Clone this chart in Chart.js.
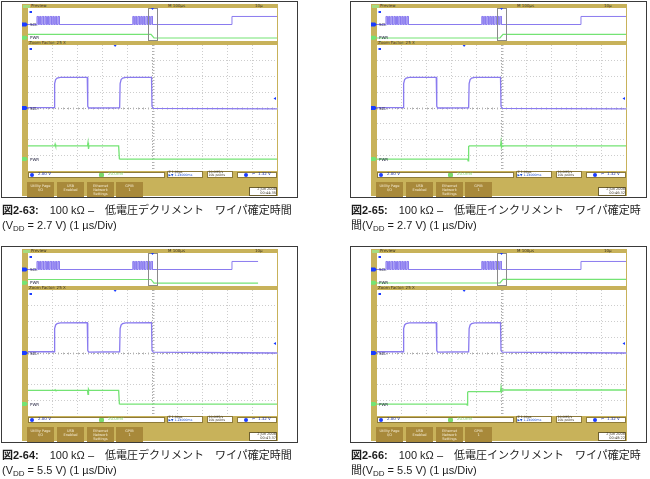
<!DOCTYPE html>
<html lang="ja">
<head>
<meta charset="UTF-8">
<title>ワイパ確定時間</title>
<script src="https://cdn.jsdelivr.net/npm/chart.js@4.4.0/dist/chart.umd.min.js"></script>
<style>
  body { margin: 0; background: #fff; }
  #page { position: relative; width: 650px; height: 479px; overflow: hidden; font-family: "Liberation Sans", Arial, sans-serif; }
  #page div, #page canvas { position: absolute; box-sizing: border-box; }
  .frame { border: 1px solid #3a3a3a; }
  .scope { background: #c8b25a; }
  .tiny { font-family: "DejaVu Sans", sans-serif; font-size: 4px; line-height: 4.5px; color: #3a3220; white-space: nowrap; }
  .sbox { background: #fff; border: 0.5px solid #8d7a3a; }
  .btn { background: #a8893a; color: #f3ead0; font-family: "DejaVu Sans", sans-serif; font-size: 3.5px; line-height: 4px; text-align: center; padding-top: 2px; }
  .cap { font-family: "Liberation Sans", "Noto Sans CJK JP", sans-serif; font-size: 11px; line-height: 15px; color: #1c1c1c; white-space: nowrap; }
  .cap sub { font-size: 8px; vertical-align: -2px; line-height: 0; }
</style>
</head>
<body>
<div id="page"></div>
<script>
// time: zoom window 1 µs/div, overview 25 µs/div (zoom factor 25), 0 = trigger
// level: screen divisions, 0 = centre graticule line
const zoomTimeRange = [-5, 5];
const overTimeRange = [-125, 125];
const levelRange = [-4, 4];

// SCL in the zoom window
const sclZoomTime = [-5, -3.95, -3.93, -3.89, -3.83, -3.7, -2.62, -2.6, -2.56, -1.32, -1.3, -1.26, -1.2, -1.07, -0.04, -0.02, 0.03, 5];
const sclZoom27 = [0.02, 0.02, 1.55, 1.8, 1.9, 1.94, 1.95, 0.1, 0, 0.01, 1.55, 1.8, 1.9, 1.94, 1.95, 0.1, -0.02, -0.06];
const sclZoom55 = [0.08, 0.08, 1.55, 1.78, 1.87, 1.91, 1.92, 0.16, 0.06, 0.08, 1.55, 1.78, 1.87, 1.91, 1.92, 0.15, 0.05, 0.0];

// PWR in the zoom window
const pwrZoomTime63 = [-5, -3.93, -3.91, -3.89, -2.61, -2.59, -2.57, -2.55, -1.36, -1.33, -1.3, 5];
const pwrZoom63 = [-2.41, -2.41, -2.3, -2.41, -2.41, -2.2, -2.6, -2.41, -2.41, -3.22, -3.24, -3.24];
const pwrZoomTime64 = [-5, -3.93, -3.91, -3.89, -2.61, -2.59, -2.57, -2.55, -1.36, -1.33, -1.3, 5];
const pwrZoom64 = [-2.37, -2.37, -2.33, -2.37, -2.37, -2.62, -2.3, -2.37, -2.37, -3.22, -3.24, -3.24];
const pwrZoomTime65 = [-5, -1.36, -1.34, -1.32, -1.29, -0.04, -0.02, 0.0, 0.03, 0.06, 5];
const pwrZoom65 = [-3.24, -3.24, -3.36, -2.45, -2.41, -2.41, -2.16, -2.5, -2.4, -2.41, -2.41];
const pwrZoomTime66 = [-5, -1.4, -1.38, -1.36, -1.33, -0.04, -0.02, 0.0, 0.03, 0.06, 5];
const pwrZoom66 = [-3.24, -3.24, -3.3, -2.5, -2.45, -2.45, -2.2, -2.45, -2.36, -2.35, -2.35];

// SCL in the overview: two clock bursts, then the bus goes high
const burst1Rise = [-116.0, -113.4, -110.7, -108.1, -105.4, -102.8, -100.2, -97.5, -94.9];
const burst1Fall = [-114.7, -112.1, -109.4, -106.8, -104.1, -101.5, -98.9, -96.2, -93.6];
const burst2Rise = [-19.8, -17.2, -14.5, -11.9, -9.2, -6.6, -3.9, -1.3];
const burst2Fall = [-18.5, -15.8, -13.2, -10.5, -7.9, -5.2, -2.6, 0.0];
const sclOverHigh = 1.95;
const sclReleaseTime = 79.8;

// PWR in the overview
const pwrOverTime63 = [-125, -1.5, 1.5, 125];
const pwrOver63 = [-2.38, -2.38, -3.27, -3.27];
const pwrOverTime64 = [-125, -1.5, 1.5, 106];
const pwrOver64 = [-2.42, -2.42, -3.3, -3.3];
const pwrOverTime65 = [-125, -1.5, 1.5, 125];
const pwrOver65 = [-3.27, -3.27, -2.4, -2.4];
const pwrOverTime66 = [-125, -1.5, 1.5, 125];
const pwrOver66 = [-3.27, -3.27, -2.4, -2.4];

const sclGround = 0;
const pwrGround = -3.24;
const trigLevel = 0.6;
const zoomWindow = [-5, 5];

const figures = [
  { ox: 0, oy: 0, fig: '2-63', mode: 'デクリメント', vdd: '2.7', scl: sclZoom27, pwrT: pwrZoomTime63, pwr: pwrZoom63, ovT: pwrOverTime63, ov: pwrOver63, stamp: '00:44:35' },
  { ox: 0, oy: 245, fig: '2-64', mode: 'デクリメント', vdd: '5.5', scl: sclZoom55, pwrT: pwrZoomTime64, pwr: pwrZoom64, ovT: pwrOverTime64, ov: pwrOver64, stamp: '00:47:37' },
  { ox: 349, oy: 0, fig: '2-65', mode: 'インクリメント', vdd: '2.7', scl: sclZoom27, pwrT: pwrZoomTime65, pwr: pwrZoom65, ovT: pwrOverTime65, ov: pwrOver65, stamp: '00:46:32' },
  { ox: 349, oy: 245, fig: '2-66', mode: 'インクリメント', vdd: '5.5', scl: sclZoom55, pwrT: pwrZoomTime66, pwr: pwrZoom66, ovT: pwrOverTime66, ov: pwrOver66, stamp: '00:48:22' }
];

const sclColor = '#8a7bef';
const pwrColor = '#74e374';
const markBlue = '#1a3cff';

const page = document.getElementById('page');

function div(cls, x, y, w, h, html, css) {
  const d = document.createElement('div');
  d.className = cls;
  d.style.left = x + 'px';
  d.style.top = y + 'px';
  if (w != null) d.style.width = w + 'px';
  if (h != null) d.style.height = h + 'px';
  if (css) Object.assign(d.style, css);
  if (html) d.innerHTML = html;
  page.appendChild(d);
  return d;
}

function canvasAt(x, y, w, h) {
  const c = document.createElement('canvas');
  c.width = w;
  c.height = h;
  c.style.left = x + 'px';
  c.style.top = y + 'px';
  page.appendChild(c);
  return c;
}

function toPoints(times, levels) {
  return times.map((t, i) => ({ x: t, y: levels[i] }));
}

function clockTrace(end) {
  const pts = [{ x: overTimeRange[0], y: sclGround }];
  [[burst1Rise, burst1Fall], [burst2Rise, burst2Fall]].forEach(([r, f]) => {
    r.forEach((t, i) => {
      pts.push({ x: t, y: sclGround }, { x: t, y: sclOverHigh }, { x: f[i], y: sclOverHigh }, { x: f[i], y: sclGround });
    });
  });
  pts.push({ x: sclReleaseTime, y: sclGround }, { x: sclReleaseTime, y: sclOverHigh }, { x: end, y: sclOverHigh });
  return pts;
}

// white screen, minor ticks on the centre cross, channel tags and markers
const scopeDecor = {
  id: 'scopeDecor',
  beforeDraw(chart) {
    const { ctx, chartArea: a } = chart;
    ctx.save();
    ctx.fillStyle = '#fff';
    ctx.fillRect(a.left, a.top, a.right - a.left, a.bottom - a.top);
    ctx.restore();
  },
  beforeDatasetsDraw(chart, args, o) {
    if (!o.minorTicks) return;
    const { ctx, scales: { x, y } } = chart;
    const cx = Math.round(x.getPixelForValue(0)) + 0.5;
    const cy = Math.round(y.getPixelForValue(0)) + 0.5;
    ctx.save();
    ctx.strokeStyle = '#b4b4b4';
    ctx.lineWidth = 1;
    ctx.beginPath();
    for (let i = 0; i <= 50; i++) {
      const px = Math.round(x.getPixelForValue(x.min + i * 0.2)) + 0.5;
      ctx.moveTo(px, cy - 1); ctx.lineTo(px, cy + 1);
    }
    for (let i = 0; i <= 40; i++) {
      const py = Math.round(y.getPixelForValue(y.min + i * 0.2)) + 0.5;
      ctx.moveTo(cx - 1, py); ctx.lineTo(cx + 1, py);
    }
    ctx.stroke();
    ctx.restore();
  },
  afterDraw(chart, args, o) {
    const { ctx, chartArea: a, scales: { x, y } } = chart;
    ctx.save();
    if (o.zoomBox) {
      const x0 = Math.round(x.getPixelForValue(o.zoomBox[0])) + 0.5;
      const x1 = Math.round(x.getPixelForValue(o.zoomBox[1])) + 0.5;
      ctx.strokeStyle = '#8a8a8a';
      ctx.lineWidth = 1;
      ctx.strokeRect(x0, a.top + 0.5, x1 - x0, a.bottom - a.top - 1);
    }
    (o.tags || []).forEach(t => {
      const py = y.getPixelForValue(t.level);
      ctx.fillStyle = t.color;
      ctx.beginPath();
      ctx.moveTo(a.left - 6, py - 2);
      ctx.lineTo(a.left - 2, py - 2);
      ctx.lineTo(a.left, py);
      ctx.lineTo(a.left - 2, py + 2);
      ctx.lineTo(a.left - 6, py + 2);
      ctx.closePath();
      ctx.fill();
      ctx.fillStyle = '#2c2c48';
      ctx.font = '4px "DejaVu Sans"';
      ctx.textBaseline = 'middle';
      ctx.fillText(t.label, a.left + 2, py + 0.5);
    });
    ctx.fillStyle = markBlue;
    if (o.posMark != null) {
      const px = x.getPixelForValue(o.posMark);
      ctx.beginPath();
      ctx.moveTo(px - 1.5, a.top);
      ctx.lineTo(px + 1.5, a.top);
      ctx.lineTo(px, a.top + 2);
      ctx.closePath();
      ctx.fill();
    }
    if (o.levelMark != null) {
      const py = y.getPixelForValue(o.levelMark);
      ctx.beginPath();
      ctx.moveTo(a.right - 1, py - 1.5);
      ctx.lineTo(a.right - 1, py + 1.5);
      ctx.lineTo(a.right - 3.5, py);
      ctx.closePath();
      ctx.fill();
    }
    ctx.fillRect(a.left + 1.5, a.top + 3, 2.5, 2);
    ctx.restore();
  }
};

function scopeOptions(xRange, withGrid, decor) {
  const axis = (min, max) => withGrid ? {
    type: 'linear', min: min, max: max,
    ticks: { display: false, stepSize: 1 },
    grid: {
      drawTicks: false, lineWidth: 1,
      color: c => c.tick.value === 0 ? '#a8a8a8' : (c.tick.value === min || c.tick.value === max) ? 'rgba(0,0,0,0)' : '#cdcdcd'
    },
    border: { display: false, dash: [1, 2] }
  } : { type: 'linear', min: min, max: max, display: false };
  return {
    responsive: false,
    animation: false,
    events: [],
    layout: { autoPadding: false, padding: { left: 6, right: 1, top: 0, bottom: 0 } },
    elements: { point: { radius: 0 }, line: { tension: 0, borderWidth: 1.2 } },
    plugins: { legend: { display: false }, tooltip: { enabled: false }, scopeDecor: decor },
    scales: { x: axis(xRange[0], xRange[1]), y: axis(levelRange[0], levelRange[1]) }
  };
}

const buttons = ['Utility Page<br>I/O', 'USB<br>Enabled', 'Ethernet<br>Network<br>Settings', 'GPIB<br>1'];

figures.forEach(f => {
  const X = v => f.ox + v, Y = v => f.oy + v;
  div('frame', X(1), Y(1), 297, 197);
  div('scope', X(22), Y(4), 256, 192);

  // top bar
  div('', X(23), Y(4.5), 7, 3, '', { background: '#a6dc80' });
  div('tiny', X(31), Y(3.8), null, null, 'Preview');
  div('tiny', X(168), Y(3.8), null, null, 'M 100µs');
  div('tiny', X(255), Y(3.8), null, null, '10µ');
  div('tiny', X(29), Y(41), null, null, 'Zoom Factor: 25 X');

  const tags = [
    { level: sclGround, color: markBlue, label: 'SCL' },
    { level: pwrGround, color: pwrColor, label: 'PWR' }
  ];
  const end = f.ovT[f.ovT.length - 1];

  new Chart(canvasAt(X(22), Y(8), 256, 33), {
    type: 'line',
    data: { datasets: [
      { data: clockTrace(end), borderColor: sclColor, borderWidth: 1 },
      { data: toPoints(f.ovT, f.ov), borderColor: pwrColor, borderWidth: 1.2 }
    ] },
    options: scopeOptions(overTimeRange, false, { tags: tags, zoomBox: zoomWindow, posMark: 0 }),
    plugins: [scopeDecor]
  });

  new Chart(canvasAt(X(22), Y(45), 256, 126), {
    type: 'line',
    data: { datasets: [
      { data: toPoints(sclZoomTime, f.scl), borderColor: sclColor, borderWidth: 1.3 },
      { data: toPoints(f.pwrT, f.pwr), borderColor: pwrColor, borderWidth: 1.3 }
    ] },
    options: scopeOptions(zoomTimeRange, true, { tags: tags, minorTicks: true, posMark: -1.5, levelMark: trigLevel }),
    plugins: [scopeDecor]
  });

  // status readouts
  div('sbox', X(28), Y(171.5), 137, 6);
  div('', X(29.5), Y(172.5), 4, 4, '', { background: markBlue, borderRadius: '2px' });
  div('tiny', X(38), Y(172.3), null, null, '2.00 V', { color: '#1b2fa8' });
  div('', X(99), Y(172.5), 5, 4, '', { background: '#7ad86a', borderRadius: '1px' });
  div('tiny', X(108), Y(172.3), null, null, '20.0mV', { color: '#86d470' });
  div('sbox', X(167), Y(171), 36, 7);
  div('tiny', X(168.5), Y(171), null, null, 'Z 1.00µs<br><span style="color:#1b4fd0">▶▼ 1.24000ms</span>', { lineHeight: '3.4px', fontSize: '3.2px' });
  div('sbox', X(207), Y(171), 26, 7);
  div('tiny', X(208.5), Y(171), null, null, '10.0MS/s<br>10k points', { lineHeight: '3.4px', fontSize: '3.2px' });
  div('sbox', X(237), Y(171.5), 40, 6);
  div('', X(244), Y(172.5), 4, 4, '', { background: markBlue, borderRadius: '2px' });
  div('tiny', X(252), Y(172.3), null, null, '⌐ &nbsp;1.32 V', { color: '#1b2fa8' });

  // soft keys
  [27, 57, 87, 116].forEach((bx, i) => div('btn', X(bx), Y(182), 27, 14.5, buttons[i]));
  div('sbox', X(249), Y(186.5), 28, 9.5, '', { border: '0.5px solid #6d5f2e' });
  div('tiny', X(250), Y(187), 26, null, '2 Jun 2008<br>' + f.stamp, { textAlign: 'right', fontSize: '3.5px', lineHeight: '4px' });

  // caption
  const split = f.mode === 'インクリメント';
  const head = '<b>図' + f.fig + ':</b>\u2003100 kΩ –\u2003低電圧' + f.mode + '\u3000ワイパ確定時' + (split ? '' : '間');
  const tail = (split ? '間' : '') + '(V<sub>DD</sub> = ' + f.vdd + ' V) (1 µs/Div)';
  div('cap', X(2), Y(203), null, null, head + '<br>' + tail);
});
</script>
</body>
</html>
